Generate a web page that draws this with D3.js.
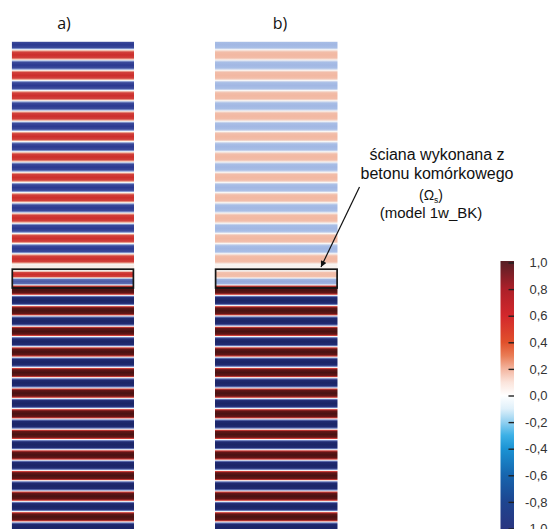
<!DOCTYPE html>
<html>
<head>
<meta charset="utf-8">
<script src="https://cdn.jsdelivr.net/npm/d3@7"></script>
<style>
  body { margin: 0; background: #fff; }
  svg { display: block; }
</style>
</head>
<body>
<svg id="chart" width="554" height="529"></svg>
<script>
// ---- data -------------------------------------------------------------
const panelLabels = ["a)", "b)"];

// normalised field value of each stripe, top to bottom
// upper part of the wall (above the marked layer)
const upperA = [-0.9, 0.7, -0.9, 0.7, -0.9, 0.7, -0.9, 0.7, -0.9, 0.7, -0.9,
                0.7, -0.9, 0.7, -0.9, 0.7, -0.9, 0.7, -0.9, 0.7, -0.9, 0.7];
const upperB = [-0.37, 0.3, -0.37, 0.3, -0.37, 0.3, -0.37, 0.3, -0.37, 0.3, -0.37,
                0.3, -0.37, 0.3, -0.37, 0.3, -0.37, 0.3, -0.37, 0.3, -0.37, 0.3];
// marked layer (framed)
const layerA = [0.05, 0.7, -0.75];
const layerB = [0.02, 0.28, -0.42];
// lower part of the wall
const lowerA = [1.3, -1.2, 1.3, -1.2, 1.3, -1.2, 1.3, -1.2, 1.3, -1.2, 1.3, -1.2,
                1.3, -1.2, 1.3, -1.2, 1.3, -1.2, 1.3, -1.2, 1.3, -1.2, 1.3, -1.2];
const lowerB = [1.3, -1.2, 1.3, -1.2, 1.3, -1.2, 1.3, -1.2, 1.3, -1.2, 1.3, -1.2,
                1.3, -1.2, 1.3, -1.2, 1.3, -1.2, 1.3, -1.2, 1.3, -1.2, 1.3, -1.2];

// colour bar ticks
const barTicks = [1.0, 0.8, 0.6, 0.4, 0.2, 0.0, -0.2, -0.4, -0.6, -0.8, -1.0];
const barStops = [1.0, 0.8, 0.6, 0.4, 0.3, 0.2, 0.1, 0.0, -0.1, -0.2, -0.3, -0.4, -0.6, -0.8, -1.0];
const barColors = ["#5b2026", "#ad2029", "#d3282c", "#e1502b", "#e97c55", "#f3b59f", "#fbe4db",
                   "#ffffff", "#dff0fa", "#92d0f0", "#3cb0e6", "#1b93d4", "#1665ae", "#1d4590", "#2a3580"];

const noteLines = ["ściana wykonana z", "betonu komórkowego"];
const noteSymbol = ["(Ω", "s", ")"];
const noteModel = "(model 1w_BK)";

// ---- layout -------------------------------------------------------------
const svg = d3.select("#chart");
const defs = svg.append("defs");

const panels = [
  { label: panelLabels[0], x0: 11.7, x1: 134, labelX: 64, sections: [upperA, layerA, lowerA] },
  { label: panelLabels[1], x0: 215, x1: 337.7, labelX: 280, sections: [upperB, layerB, lowerB] }
];
const sectionSpans = [[39.6, 264], [264, 285], [285, 532.2]];
const panelTop = 41.7, panelBottom = 529;
const frame = { y0: 269.2, y1: 288 };

// colour map of the field
const fieldColor = d3.scaleLinear()
  .domain([-1.4, -0.9, -0.35, 0, 0.3, 0.7, 1.05, 1.4])
  .range(["#11174a", "#2b3990", "#a6bce6", "#f8f6f4", "#f2b8a2", "#cc2e2b", "#8a1c1c", "#2e0e0e"])
  .clamp(true);

// each stripe fades to zero at its edges
const profile = [[0, 0], [0.1, 0.5], [0.22, 0.92], [0.5, 1], [0.78, 0.92], [0.9, 0.5], [1, 0]];
const gradIds = new Map();
function stripeFill(v) {
  const key = v.toFixed(3);
  if (!gradIds.has(key)) {
    const id = "st" + gradIds.size;
    gradIds.set(key, id);
    const g = defs.append("linearGradient").attr("id", id)
      .attr("x1", 0).attr("y1", 0).attr("x2", 0).attr("y2", 1);
    g.selectAll("stop").data(profile).join("stop")
      .attr("offset", d => d[0])
      .attr("stop-color", d => fieldColor(v * d[1]));
  }
  return `url(#${gradIds.get(key)})`;
}

panels.forEach((p, pi) => {
  const clipId = "clip" + pi;
  defs.append("clipPath").attr("id", clipId)
    .append("rect")
    .attr("x", p.x0).attr("y", panelTop)
    .attr("width", p.x1 - p.x0).attr("height", panelBottom - panelTop + 2);

  const g = svg.append("g").attr("clip-path", `url(#${clipId})`);
  p.sections.forEach((rows, si) => {
    const y = d3.scaleBand().domain(d3.range(rows.length)).range(sectionSpans[si]);
    g.append("g").selectAll("rect").data(rows).join("rect")
      .attr("x", p.x0).attr("width", p.x1 - p.x0)
      .attr("y", (d, i) => y(i))
      .attr("height", y.bandwidth() + 0.05)
      .attr("fill", d => stripeFill(d));
  });

  // frame round the marked layer
  svg.append("rect")
    .attr("x", p.x0 + 0.6).attr("y", frame.y0)
    .attr("width", p.x1 - p.x0 - 1.2).attr("height", frame.y1 - frame.y0)
    .attr("fill", "none").attr("stroke", "#161616").attr("stroke-width", 1.7);

  svg.append("text")
    .attr("x", p.labelX).attr("y", 28.5)
    .attr("text-anchor", "middle")
    .attr("font-family", "'Open Sans', sans-serif")
    .attr("font-size", 16).attr("fill", "#111")
    .text(p.label);
});

// ---- annotation ----------------------------------------------------------
const note = svg.append("g").attr("font-family", "'Liberation Sans', Arial, sans-serif").attr("fill", "#111");
note.selectAll("text.l").data(noteLines).join("text").attr("class", "l")
  .attr("x", 437).attr("y", (d, i) => 159.5 + i * 19)
  .attr("text-anchor", "middle").attr("font-size", 16)
  .text(d => d);
const sym = note.append("text").attr("x", 431).attr("y", 200)
  .attr("text-anchor", "middle").attr("font-size", 14);
sym.append("tspan").text(noteSymbol[0]);
sym.append("tspan").attr("font-size", 8.5).attr("dy", 2.5).text(noteSymbol[1]);
sym.append("tspan").attr("dy", -2.5).text(noteSymbol[2]);
note.append("text").attr("x", 431).attr("y", 218)
  .attr("text-anchor", "middle").attr("font-size", 15)
  .text(noteModel);

defs.append("marker").attr("id", "arrowHead")
  .attr("viewBox", "0 0 10 10").attr("refX", 10).attr("refY", 5)
  .attr("markerWidth", 7).attr("markerHeight", 6).attr("markerUnits", "userSpaceOnUse")
  .attr("orient", "auto")
  .append("path").attr("d", "M0,0L10,5L0,10Z").attr("fill", "#111");
svg.append("line")
  .attr("x1", 359.5).attr("y1", 187).attr("x2", 321).attr("y2", 267)
  .attr("stroke", "#111").attr("stroke-width", 1.2)
  .attr("marker-end", "url(#arrowHead)");

// ---- colour bar ------------------------------------------------------------
const barColor = d3.scaleLinear().domain(barStops).range(barColors).clamp(true);
const barY = d3.scaleLinear().domain([1, -1]).range([262.5, 528.5]);
const bar = { x: 500.5, w: 13.5, y0: 261, y1: 531 };

const barGrad = defs.append("linearGradient").attr("id", "barGrad")
  .attr("gradientUnits", "userSpaceOnUse")
  .attr("x1", 0).attr("x2", 0).attr("y1", bar.y0).attr("y2", bar.y1);
barGrad.selectAll("stop").data(barStops).join("stop")
  .attr("offset", d => (barY(d) - bar.y0) / (bar.y1 - bar.y0))
  .attr("stop-color", d => barColor(d));

svg.append("rect")
  .attr("x", bar.x).attr("y", bar.y0)
  .attr("width", bar.w).attr("height", bar.y1 - bar.y0)
  .attr("fill", "url(#barGrad)");

const pl = d3.formatLocale({ decimal: ",", thousands: " ", grouping: [3], currency: ["", ""], minus: "-" });
const fmt = pl.format(".1f");

const axis = d3.axisRight(barY).tickValues(barTicks).tickFormat(fmt)
  .tickSizeInner(-5.5).tickSizeOuter(0).tickPadding(0);
const ax = svg.append("g").attr("transform", `translate(${bar.x + bar.w},0)`).call(axis);
ax.select(".domain").remove();
ax.selectAll(".tick line").attr("stroke", "#222").attr("stroke-width", 1.4);
ax.selectAll(".tick text")
  .attr("x", 33.5).attr("text-anchor", "end")
  .attr("font-family", "'Liberation Sans', Arial, sans-serif")
  .attr("font-size", 13).attr("fill", "#333");
</script>
</body>
</html>
